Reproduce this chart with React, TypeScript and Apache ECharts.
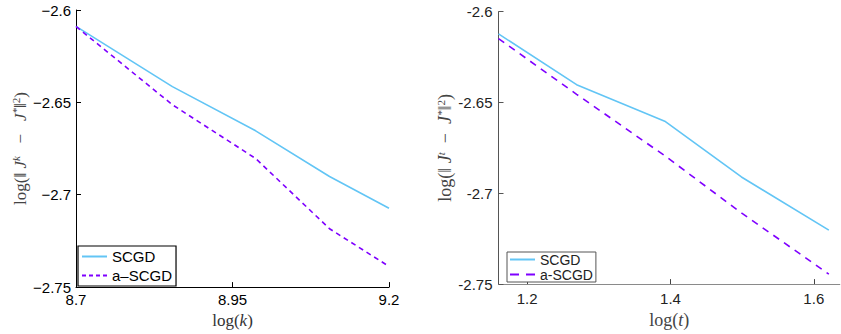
import React, { useEffect, useRef } from "react";
import * as echarts from "echarts";

// Left panel: log(k) vs log(||J^k - J*||^2)
const leftX = [8.7, 8.854, 8.987, 9.105, 9.2];
const leftSCGD = [-2.6089, -2.6415, -2.6654, -2.6901, -2.7073];
const leftASCGD = [-2.6089, -2.6513, -2.6804, -2.7184, -2.7388];
const leftXTicks = [8.7, 8.95, 9.2];

// Right panel: log(t) vs log(||J^t - J*||^2)
const rightX = [1.16, 1.269, 1.392, 1.499, 1.621];
const rightSCGD = [-2.6122, -2.6402, -2.6603, -2.691, -2.7203];
const rightASCGD = [-2.6148, -2.6455, -2.6793, -2.7108, -2.7445];
const rightXTicks = [1.2, 1.4, 1.6];

const yMin = -2.75;
const yMax = -2.6;
const yStep = 0.05;

const BLUE = "#62c5f5";
const PURPLE = "#7f00ff";

const pairs = (xs: number[], ys: number[]) => xs.map((x, i) => [x, ys[i]]);

export default function App() {
  const ref = useRef<HTMLDivElement>(null);
  useEffect(() => {
    document.body.style.margin = "0";
    if (!ref.current) return;
    const chart = echarts.init(ref.current, undefined, { renderer: "svg" });
    const serif = "Liberation Serif";
    const sans = "Liberation Sans";
    const solidIcon = "path://M0,0h25v2h-25z";
    const dashLeftIcon = "path://M0,0h4v2h-4z M7,0h4v2h-4z M14,0h4v2h-4z M21,0h4v2h-4z";
    const dashRightIcon = "path://M0,0h9v2h-9z M16,0h9v2h-9z";
    chart.setOption({
      animation: false,
      legend: [
        {
          data: [
            { name: "SCGD", icon: solidIcon, itemStyle: { color: BLUE } },
            { name: "a\u2013SCGD", icon: dashLeftIcon, itemStyle: { color: PURPLE } },
          ],
          orient: "vertical",
          left: 78,
          top: 246,
          padding: [2, 4, 2, 4],
          itemGap: 2,
          itemWidth: 25,
          itemHeight: 2,
          borderColor: "#000",
          borderWidth: 1.2,
          borderRadius: 0,
          backgroundColor: "#fff",
          textStyle: { fontFamily: sans, fontSize: 15, color: "#000", lineHeight: 17 },
          selectedMode: false,
        },
        {
          data: [
            { name: "SCGD_r", icon: solidIcon, itemStyle: { color: BLUE } },
            { name: "a-SCGD", icon: dashRightIcon, itemStyle: { color: PURPLE } },
          ],
          formatter: (name: string) => name.replace("_r", ""),
          orient: "vertical",
          left: 507,
          top: 252,
          padding: [0, 3, 0, 3],
          itemGap: 0,
          itemWidth: 25,
          itemHeight: 2,
          borderColor: "#555",
          borderWidth: 1,
          borderRadius: 0,
          backgroundColor: "#fff",
          textStyle: { fontFamily: sans, fontSize: 14, color: "#222", lineHeight: 15 },
          selectedMode: false,
        },
      ],
      grid: [
        { left: 76, top: 10, width: 313, height: 283, containLabel: false },
        { left: 498.5, top: 11.7, width: 341.3, height: 277.6, containLabel: false },
      ],
      xAxis: [
        {
          type: "value",
          gridIndex: 0,
          min: 8.7,
          max: 9.2,
          splitLine: { show: false },
          axisLine: { lineStyle: { color: "#000", width: 1 } },
          axisTick: { inside: true, length: 5, customValues: leftXTicks, lineStyle: { color: "#000" } },
          axisLabel: {
            customValues: leftXTicks,
            formatter: (v: number) => String(v),
            fontFamily: sans,
            fontSize: 15,
            color: "#000",
            margin: 5,
          },
          name: "{n0|log(}{i|k}{n0|)}",
          nameLocation: "middle",
          nameGap: 17,
          nameTextStyle: {
            fontFamily: serif,
            fontSize: 17,
            color: "#333",
            rich: { n0: { fontFamily: serif, fontSize: 17 }, i: { fontFamily: serif, fontSize: 17, fontStyle: "italic" } },
          },
        },
        {
          type: "value",
          gridIndex: 1,
          min: 1.16,
          max: 1.6363,
          splitLine: { show: false },
          axisLine: { lineStyle: { color: "#8a8a8a", width: 1 } },
          axisTick: { inside: true, length: 5, customValues: rightXTicks, lineStyle: { color: "#444" } },
          axisLabel: {
            customValues: rightXTicks,
            formatter: (v: number) => v.toFixed(1),
            fontFamily: sans,
            fontSize: 15,
            color: "#222",
            margin: 7,
          },
          name: "{n0|log(}{i|t}{n0|)}",
          nameLocation: "middle",
          nameGap: 23,
          nameTextStyle: {
            fontFamily: serif,
            fontSize: 18,
            color: "#444",
            rich: { n0: { fontFamily: serif, fontSize: 18 }, i: { fontFamily: serif, fontSize: 18, fontStyle: "italic" } },
          },
        },
      ],
      yAxis: [
        {
          type: "value",
          gridIndex: 0,
          min: yMin,
          max: yMax,
          interval: yStep,
          splitLine: { show: false },
          axisLine: { lineStyle: { color: "#000", width: 1 } },
          axisTick: { inside: true, length: 5, lineStyle: { color: "#000" } },
          axisLabel: {
            formatter: (v: number) => "\u2212" + String(Math.abs(Number(v.toFixed(2)))),
            fontFamily: sans,
            fontSize: 15,
            color: "#000",
            margin: 5,
          },
          name: "{n0|log(\u2016 }{i|J}{s|k}{n0|   \u2212   }{i|J}{s|*}{n0|\u2016}{u|2}{n0|)}",
          nameLocation: "middle",
          nameRotate: 90,
          nameGap: 46,
          nameTextStyle: {
            fontFamily: serif,
            fontSize: 17,
            color: "#444",
            rich: {
              n0: { fontFamily: serif, fontSize: 17, lineHeight: 20 },
              i: { fontFamily: serif, fontSize: 17, fontStyle: "italic", lineHeight: 20 },
              s: { fontFamily: serif, fontSize: 11, fontStyle: "italic", lineHeight: 12, verticalAlign: "top" },
              u: { fontFamily: serif, fontSize: 11, lineHeight: 12, verticalAlign: "top" },
            },
          },
        },
        {
          type: "value",
          gridIndex: 1,
          min: yMin,
          max: yMax,
          interval: yStep,
          splitLine: { show: false },
          axisLine: { lineStyle: { color: "#555", width: 1 } },
          axisTick: { inside: true, length: 5, lineStyle: { color: "#555" } },
          axisLabel: {
            formatter: (v: number) => "-" + String(Math.abs(Number(v.toFixed(2)))),
            fontFamily: sans,
            fontSize: 15,
            color: "#222",
            margin: 6,
          },
          name: "{n0|log(\u2016 }{i|J}{s|t}{n0|  \u2212  }{i|J}{s|*}{n0|\u2016}{u|2}{n0|)}",
          nameLocation: "middle",
          nameRotate: 90,
          nameGap: 43,
          nameTextStyle: {
            fontFamily: serif,
            fontSize: 18,
            color: "#444",
            rich: {
              n0: { fontFamily: serif, fontSize: 18, lineHeight: 20 },
              i: { fontFamily: serif, fontSize: 18, fontStyle: "italic", lineHeight: 20 },
              s: { fontFamily: serif, fontSize: 11, fontStyle: "italic", lineHeight: 12, verticalAlign: "top" },
              u: { fontFamily: serif, fontSize: 11, lineHeight: 12, verticalAlign: "top" },
            },
          },
        },
      ],
      series: [
        {
          name: "SCGD",
          type: "line",
          xAxisIndex: 0,
          yAxisIndex: 0,
          data: pairs(leftX, leftSCGD),
          symbol: "none",
          lineStyle: { color: BLUE, width: 1.6 },
          itemStyle: { color: BLUE },
        },
        {
          name: "a\u2013SCGD",
          type: "line",
          xAxisIndex: 0,
          yAxisIndex: 0,
          data: pairs(leftX, leftASCGD),
          symbol: "none",
          lineStyle: { color: PURPLE, width: 1.6, type: [5, 4] },
          itemStyle: { color: PURPLE },
        },
        {
          name: "SCGD_r",
          type: "line",
          xAxisIndex: 1,
          yAxisIndex: 1,
          data: pairs(rightX, rightSCGD),
          symbol: "none",
          lineStyle: { color: BLUE, width: 1.6 },
          itemStyle: { color: BLUE },
        },
        {
          name: "a-SCGD",
          type: "line",
          xAxisIndex: 1,
          yAxisIndex: 1,
          data: pairs(rightX, rightASCGD),
          symbol: "none",
          lineStyle: { color: PURPLE, width: 1.6, type: [7, 6] },
          itemStyle: { color: PURPLE },
        },
      ],
    });
    return () => chart.dispose();
  }, []);
  return <div ref={ref} style={{ width: 841, height: 334 }} />;
}
